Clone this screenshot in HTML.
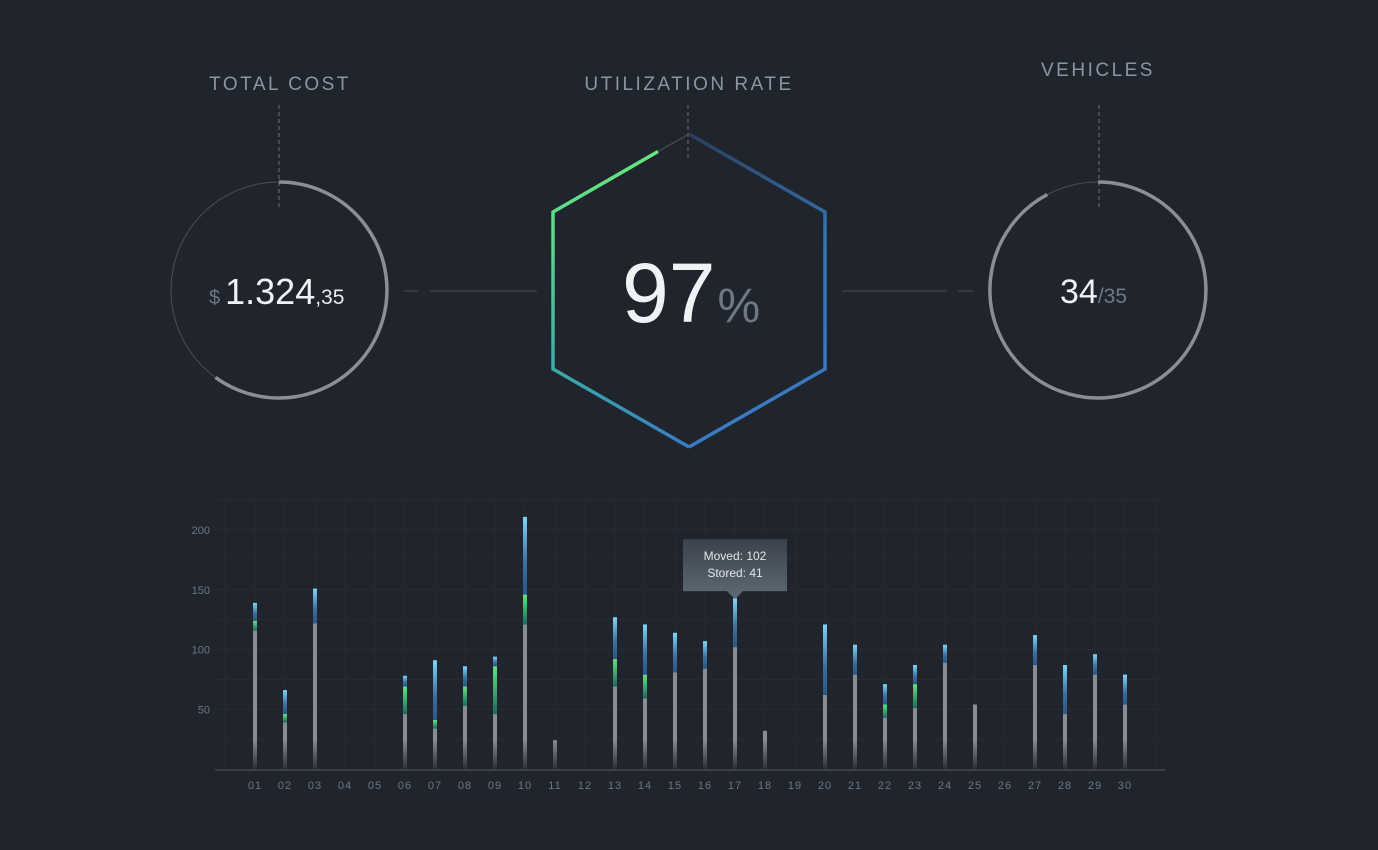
<!DOCTYPE html>
<html><head><meta charset="utf-8">
<style>
html,body{margin:0;padding:0;background:#20242d;width:1378px;height:850px;overflow:hidden}
svg{display:block}
text{font-family:"Liberation Sans",sans-serif}
</style></head>
<body>
<svg width="1378" height="850" viewBox="0 0 1378 850">
<defs>
<linearGradient id="hexL" x1="0" y1="0" x2="0" y2="1"><stop offset="0" stop-color="#66e67e"/><stop offset="0.3" stop-color="#5ad98a"/><stop offset="0.75" stop-color="#3aa9a8"/><stop offset="1" stop-color="#3a7cc4"/></linearGradient>
<linearGradient id="hexR" x1="0" y1="0" x2="0" y2="1"><stop offset="0" stop-color="#2a3f5a"/><stop offset="0.3" stop-color="#3672b0"/><stop offset="1" stop-color="#3a7cc4"/></linearGradient>
<linearGradient id="gGray" x1="0" y1="0" x2="0" y2="1"><stop offset="0" stop-color="#8a8c93"/><stop offset="1" stop-color="#8a8c93"/></linearGradient>
<linearGradient id="gFade" x1="0" y1="0" x2="0" y2="1"><stop offset="0" stop-color="#8a8c93"/><stop offset="1" stop-color="#20242d"/></linearGradient>
<linearGradient id="gBlue" x1="0" y1="0" x2="0" y2="1"><stop offset="0" stop-color="#7fd4f8"/><stop offset="0.6" stop-color="#3b6e9e"/><stop offset="1" stop-color="#2c5686"/></linearGradient>
<linearGradient id="gGreen" x1="0" y1="0" x2="0" y2="1"><stop offset="0" stop-color="#62e37c"/><stop offset="1" stop-color="#1b6a60"/></linearGradient>
<linearGradient id="gTip" x1="0" y1="0" x2="0" y2="1"><stop offset="0" stop-color="#3a424b"/><stop offset="1" stop-color="#5e6a73"/></linearGradient>
</defs>

<!-- KPI titles -->
<text x="280" y="90" text-anchor="middle" font-size="19" letter-spacing="2.5" fill="#8a96a0">TOTAL COST</text>
<text x="689" y="90" text-anchor="middle" font-size="19" letter-spacing="2.5" fill="#8a96a0">UTILIZATION RATE</text>
<text x="1098" y="76" text-anchor="middle" font-size="19" letter-spacing="2.5" fill="#8a96a0">VEHICLES</text>

<!-- dashed leaders -->
<line x1="279" y1="105" x2="279" y2="208" stroke="#5a606a" stroke-width="1.3" stroke-dasharray="4,3"/>
<line x1="688" y1="105" x2="688" y2="160" stroke="#5a606a" stroke-width="1.3" stroke-dasharray="4,3"/>
<line x1="1099" y1="105" x2="1099" y2="208" stroke="#5a606a" stroke-width="1.3" stroke-dasharray="4,3"/>

<!-- connectors -->
<g stroke="#3c4049" stroke-width="1.5">
<line x1="404" y1="291" x2="418" y2="291"/><line x1="430" y1="291" x2="537" y2="291"/></g>
<g stroke="#3c4049" stroke-width="1.5">
<line x1="842" y1="291" x2="947" y2="291"/><line x1="958" y1="291" x2="973" y2="291"/></g>

<!-- Total cost gauge -->
<g>
<circle cx="279" cy="290" r="108" fill="none" stroke="#4a4e56" stroke-width="1"/>
<path d="M279 182 A108 108 0 1 1 215.5 377.4" fill="none" stroke="#8c8e94" stroke-width="3.5"/>
</g>
<text y="304" font-size="36">
<tspan font-size="20" fill="#6e7882" x="209" dy="0">$</tspan><tspan fill="#f0f2f5" dx="5">1.324</tspan><tspan fill="#e8eaee" font-size="21">,35</tspan></text>

<!-- Vehicles gauge -->
<g>
<circle cx="1098" cy="290" r="108" fill="none" stroke="#4a4e56" stroke-width="1"/>
<path d="M1098 182 A108 108 0 1 1 1047.3 194.6" fill="none" stroke="#8c8e94" stroke-width="3.5"/>
</g>
<text y="303" font-size="34">
<tspan x="1060" fill="#f0f2f5">34</tspan><tspan fill="#6e7882" font-size="21">/35</tspan></text>

<!-- Hexagon -->
<g fill="none" stroke-width="3.5" stroke-linejoin="miter">
<line x1="658" y1="151.5" x2="689" y2="134" stroke="#4a4e56" stroke-width="1.2"/>
<polyline points="658,151.5 553,212 553,369 689,447" stroke="url(#hexL)"/>
<polyline points="689,134 825,212 825,369 689,447" stroke="url(#hexR)"/>
</g>
<text y="322" font-size="84" fill="#f0f2f5"><tspan x="622">97</tspan><tspan font-size="48" fill="#6e7882" dx="2">%</tspan></text>

<!-- Chart -->
<g id="chart"></g>
</svg>
<script>
const days = ["01","02","03","04","05","06","07","08","09","10","11","12","13","14","15","16","17","18","19","20","21","22","23","24","25","26","27","28","29","30"];
const movedValues = [116,39,122,0,0,46,34,53,46,121,24,0,69,59,81,84,102,32,0,62,79,43,51,89,54,0,87,46,79,54];
const greenValues = [8,7,0,0,0,23,7,16,40,25,0,0,23,20,0,0,0,0,0,0,0,11,20,0,0,0,0,0,0,0];
const storedValues = [15,20,29,0,0,9,50,17,8,65,0,0,35,42,33,23,41,0,0,59,25,17,16,15,0,0,25,41,17,25];
const yTicks = [50,100,150,200];
const tooltipIndex = 16;

const NS = "http://www.w3.org/2000/svg";
const g = document.getElementById('chart');
const x0 = 255, xStep = 30, yBase = 769, yScale = 1.195;
const xPos = i => x0 + i * xStep;
const yPos = v => yBase - v * yScale;
function mk(tag, attrs){const e=document.createElementNS(NS,tag);for(const k in attrs)e.setAttribute(k,attrs[k]);g.appendChild(e);return e;}

// grid
for (let v = 25; v <= 225; v += 25) {
  const l = mk('line',{x1:215,x2:1165,y1:yPos(v),y2:yPos(v),stroke:'#272b34','stroke-width':1});
  
  
}
for (let i = -1; i <= days.length; i++) {
  const l = mk('line',{x1:xPos(i),x2:xPos(i),y1:500,y2:769,stroke:'#262a33','stroke-width':1});
  
  
}
const ax = mk('line',{x1:215,x2:1165,y1:770,y2:770,stroke:'#3a3e47','stroke-width':2});



yTicks.forEach(v => {
  const t = mk('text',{x:210,y:yPos(v)+4,'text-anchor':'end','font-size':11,fill:'#6e7782'});
  t.textContent = v;
  
  
});
days.forEach((d,i) => {
  const t = mk('text',{x:xPos(i),y:789,'text-anchor':'middle','font-size':11,fill:'#6e7782','letter-spacing':1});
  t.textContent = d;
  
  
});

days.forEach((d,i) => {
  const m = movedValues[i], gr = greenValues[i], s = storedValues[i];
  const x = xPos(i) - 2;
  if (m > 0) {
    const top = yPos(m);
    const r = mk('rect',{x:x,y:top,width:4,height:yBase-top,fill:'#8a8c93'});
    
    
    const fh = Math.min(30, yBase - top);
    const f = mk('rect',{x:x,y:yBase-fh,width:4,height:fh,fill:'url(#gFade)',opacity:0.9});
    
    
  }
  if (gr > 0) {
    const r = mk('rect',{x:x,y:yPos(m+gr),width:4,height:gr*yScale,fill:'url(#gGreen)'});
    
    
  }
  if (s > 0) {
    const r = mk('rect',{x:x,y:yPos(m+gr+s),width:4,height:s*yScale,fill:'url(#gBlue)'});
    
    
  }
});

// tooltip
const ti = tooltipIndex;
const tx = xPos(ti), tTop = yPos(movedValues[ti]+greenValues[ti]+storedValues[ti]);
const tip = document.createElementNS(NS,'g');


g.appendChild(tip);
const by = tTop - 59;
const pth = document.createElementNS(NS,'path');
pth.setAttribute('d', `M${tx-52} ${by} h104 v52 h-44 l-8 8 l-8 -8 h-44 z`);
pth.setAttribute('fill','url(#gTip)');
tip.appendChild(pth);
const t1 = document.createElementNS(NS,'text');
t1.setAttribute('x',tx); t1.setAttribute('y',by+21); t1.setAttribute('text-anchor','middle');
t1.setAttribute('font-size','12'); t1.setAttribute('fill','#e2e6ea');
t1.textContent = 'Moved: ' + movedValues[ti];
tip.appendChild(t1);
const t2 = document.createElementNS(NS,'text');
t2.setAttribute('x',tx); t2.setAttribute('y',by+38); t2.setAttribute('text-anchor','middle');
t2.setAttribute('font-size','12'); t2.setAttribute('fill','#e2e6ea');
t2.textContent = 'Stored: ' + storedValues[ti];
tip.appendChild(t2);
</script>
</body></html>
